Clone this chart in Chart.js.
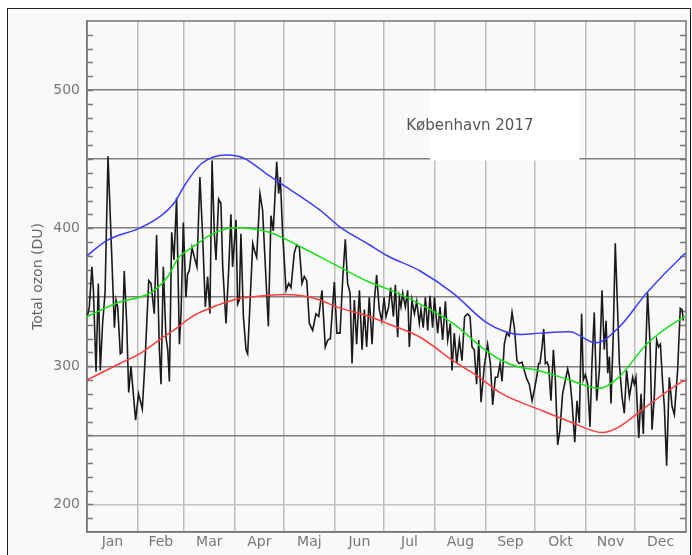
<!DOCTYPE html>
<html>
<head>
<meta charset="utf-8">
<title>Total ozon København 2017</title>
<script src="https://cdn.jsdelivr.net/npm/chart.js@4.4.0/dist/chart.umd.min.js"></script>
<style>
  html, body { margin: 0; padding: 0; background: #fff; }
  #wrap { position: relative; width: 692px; height: 555px; overflow: hidden; }
  #frame { position: absolute; left: 7px; top: 8px; width: 682px; height: 560px;
           border: 1.5px solid #222; background: #f9f9f9; }
  #chart { position: absolute; left: 0; top: 0; }
</style>
</head>
<body>
<div id="wrap">
  <div id="frame"></div>
  <canvas id="chart" width="692" height="555"></canvas>
</div>
<script>
/* ---- data (day of year, DU) ---- */
const monthNames = ["Jan", "Feb", "Mar", "Apr", "Maj", "Jun", "Jul", "Aug", "Sep", "Okt", "Nov", "Dec"];
const monthEdges = [31, 59, 90, 120, 151, 181, 212, 243, 273, 304, 334];
const monthMids = [15.5, 45, 74.5, 105, 135.5, 166, 196.5, 227.5, 258, 288.5, 319, 349.5];
const yGridValues = [200, 250, 300, 350, 400, 450, 500];

// daily observations 2017
const obsDays = [
  0.4, 1.4, 3.0, 3.9, 5.5, 6.9, 8.1, 9.5, 11.0, 12.8, 14.2, 16.7, 17.7, 18.7, 20.3, 21.3, 22.7, 24.2, 25.4, 26.8,
  29.6, 31.4, 32.5, 33.7, 35.5, 37.6, 39.0, 41.0, 42.4, 44.1, 45.1, 46.5, 48.1, 49.2, 50.2, 51.6, 53.0, 54.6, 56.3, 57.3,
  58.7, 60.3, 61.3, 62.3, 64.0, 65.4, 67.0, 68.8, 70.5, 72.1, 73.5, 74.9, 76.2, 77.6, 78.6, 80.2, 81.6, 82.7, 84.7, 86.3,
  87.7, 88.7, 90.8, 91.8,
  92.8, 93.8, 95.3, 96.9, 97.9, 99.3, 101.0, 102.0, 103.4, 105.4, 107.0, 108.7, 110.5, 112.1, 113.5, 115.6, 116.8, 117.8, 119.2, 121.3,
  122.9, 124.3, 126.3, 127.8, 129.4, 131.0, 132.4, 133.9, 135.5, 137.5, 139.5, 141.2, 143.2, 145.2, 146.7, 148.3, 150.7, 152.3, 154.2, 155.8,
  157.4, 158.8, 160.3, 161.5, 162.9, 164.3, 166.0, 167.6, 169.0, 170.4, 172.0, 173.7, 175.1, 176.5, 178.1, 179.6, 181.0, 182.2,
  183.8, 185.0, 186.7, 187.9, 189.3, 190.3, 191.3, 192.4, 194.0, 195.4, 196.4, 198.0, 199.5, 200.9, 202.5, 203.5, 204.9, 206.2, 207.6, 209.0,
  210.6, 211.7, 213.7, 215.1, 216.7, 218.4, 219.8, 221.4, 222.4, 223.8, 225.3, 226.9, 228.5, 230.1, 232.0, 233.4, 234.6, 236.0, 237.4, 238.7,
  240.1, 242.1, 244.1, 245.8, 247.2, 248.8, 250.2, 251.7, 252.9, 254.3, 255.7, 257.3, 259.0, 260.4, 262.0, 263.4, 265.1, 266.5, 267.9, 269.5,
  271.2, 272.6, 274.0, 275.2,
  276.0, 277.3, 278.3, 279.3, 280.3, 281.3, 282.7, 284.2, 285.4, 286.8, 288.2, 289.8, 291.5, 292.9, 294.3, 295.5, 297.2, 298.6, 300.0, 301.4,
  302.4, 303.7, 305.1, 306.5, 307.7, 309.1, 310.6, 312.2, 313.8, 315.2, 316.3, 317.3, 318.3, 319.3, 320.7, 321.9, 323.4, 324.4, 326.0, 327.4,
  328.8, 330.5, 332.5, 333.5, 334.5, 336.2, 337.6, 339.0, 340.2, 341.6, 343.1, 344.3, 345.7, 347.1, 348.3, 349.4, 350.8, 351.8, 353.2, 354.8,
  356.5, 357.9, 359.9, 361.5, 362.6, 363.4
];
const obsOzone = [
  337, 343, 372, 355, 296, 360, 297, 331, 353, 452, 408, 328, 348, 343, 309, 310, 369, 331, 281, 300,
  261, 280, 275, 269, 307, 362, 360, 338, 395, 312, 287, 372, 321, 312, 289, 397, 377, 422, 316, 338,
  404, 350, 367, 369, 386, 379, 372, 437, 393, 343, 365, 338, 449, 396, 377, 421, 418, 372, 331, 369,
  410, 372, 406, 345,
  348, 396, 336, 312, 309, 345, 389, 384, 379, 425, 413, 372, 329, 409, 398, 448, 425, 437, 396, 355,
  360, 357, 382, 388, 386, 360, 365, 362, 331, 326, 338, 336, 355, 314, 319, 320, 361, 324, 324, 363,
  392, 360, 353, 302, 348, 316, 355, 312, 341, 314, 350, 316, 348, 366, 341, 333, 350, 336,
  343, 357, 336, 359, 321, 350, 343, 353, 343, 355, 314, 348, 338, 347, 331, 341, 328, 350, 326, 351,
  328, 350, 324, 343, 319, 347, 319, 331, 297, 324, 302, 319, 304, 336, 338, 336, 314, 312, 287, 319,
  274, 300, 316, 302, 272, 292, 292, 302, 289, 316, 324, 322, 339, 328, 304, 302, 303, 297, 291, 287,
  275, 283, 292, 302,
  302, 314, 327, 302, 303, 300, 275, 312, 290, 243, 254, 280, 290, 298, 290, 275, 245, 275, 259, 338,
  290, 294, 287, 256, 302, 339, 275, 297, 355, 312, 333, 295, 307, 273, 324, 389, 338, 302, 278, 266,
  297, 278, 292, 287, 292, 248, 280, 251, 302, 353, 316, 254, 278, 319, 314, 316, 287, 271, 228, 292,
  271, 265, 297, 342, 341, 333
];

// climatology: upper, mean and lower curves
const hiDays = [0, 12, 32, 44, 53, 60, 70, 85, 95, 111, 121, 142, 154, 172, 183, 203, 223, 243, 255, 264, 276, 294, 310, 324, 341, 363, 365];
const hiOzone = [380, 391, 400, 408, 418, 432, 447, 453, 451, 438, 430, 413, 401, 388, 380, 369, 353, 332, 325, 323, 324, 325, 317, 328, 353, 380, 382];
const meanDays = [0, 20, 32, 40, 49, 56, 64, 75, 85, 92, 111, 131, 152, 172, 183, 203, 223, 243, 253, 263, 275, 294, 312, 324, 341, 363, 365];
const meanOzone = [336, 346.5, 350, 354, 364.6, 379, 386, 395, 399.6, 400.3, 397, 386, 373, 361, 356, 345, 331, 311.5, 304, 299.5, 297, 290, 284, 292, 316, 335, 336];
const loDays = [0, 20, 32, 44, 54, 64, 75, 85, 93, 111, 121, 131, 142, 152, 172, 183, 203, 223, 239, 253, 275, 294, 314, 324, 341, 363, 365];
const loOzone = [290, 302, 309, 319, 327, 336, 342, 346.5, 349, 351.4, 352, 351, 348, 343, 336, 331, 321, 304, 292, 280, 269, 260, 252, 256, 271, 289, 290];

const stationLabel = "København 2017";

function points(days, vals) {
  return days.map((d, i) => ({ x: d, y: vals[i] }));
}

/* ---- extra drawing: minor ticks, frame, label box ---- */
const decorPlugin = {
  id: "decor",
  beforeDatasetsDraw(chart) {
    const { ctx, chartArea: a, scales: { x, y } } = chart;
    ctx.save();

    // white label box (covers grid)
    const bx0 = x.getPixelForValue(209), bx1 = x.getPixelForValue(300);
    const by0 = y.getPixelForValue(499), by1 = y.getPixelForValue(449);
    ctx.fillStyle = "#ffffff";
    ctx.fillRect(bx0, by0, bx1 - bx0, by1 - by0);

    // minor ticks every 10 DU, both sides
    ctx.strokeStyle = "#777";
    ctx.lineWidth = 1.5;
    ctx.beginPath();
    for (let v = 190; v < 550; v += 10) {
      const py = Math.round(y.getPixelForValue(v)) + 0.5;
      ctx.moveTo(a.left, py);
      ctx.lineTo(a.left + 6, py);
      ctx.moveTo(a.right, py);
      ctx.lineTo(a.right - 6, py);
    }
    ctx.stroke();

    // full frame
    ctx.strokeRect(a.left, a.top, a.right - a.left, a.bottom - a.top);

    // station label
    ctx.fillStyle = "#555";
    ctx.font = "15px 'DejaVu Sans'";
    ctx.textAlign = "left";
    ctx.textBaseline = "middle";
    ctx.fillText(stationLabel, x.getPixelForValue(194.5), y.getPixelForValue(474));

    ctx.restore();
  }
};

const tickFont = { family: "'DejaVu Sans'", size: 14 };

new Chart(document.getElementById("chart"), {
  type: "line",
  data: {
    datasets: [
      {
        label: "max",
        data: points(hiDays, hiOzone),
        borderColor: "#3c3cff",
        borderWidth: 1.5,
        pointRadius: 0,
        cubicInterpolationMode: "monotone"
      },
      {
        label: "mean",
        data: points(meanDays, meanOzone),
        borderColor: "#14e014",
        borderWidth: 1.5,
        pointRadius: 0,
        cubicInterpolationMode: "monotone"
      },
      {
        label: "min",
        data: points(loDays, loOzone),
        borderColor: "#ff3c3c",
        borderWidth: 1.5,
        pointRadius: 0,
        cubicInterpolationMode: "monotone"
      },
      {
        label: "2017",
        data: points(obsDays, obsOzone),
        borderColor: "#1a1a1a",
        borderWidth: 1.6,
        pointRadius: 0,
        tension: 0
      }
    ]
  },
  options: {
    responsive: false,
    animation: false,
    layout: { padding: { top: 21, right: 6, left: 0, bottom: 0 } },
    plugins: {
      legend: { display: false },
      tooltip: { enabled: false }
    },
    scales: {
      x: {
        type: "linear",
        min: 0,
        max: 365,
        afterBuildTicks: (scale) => {
          scale.ticks = monthEdges.concat(monthMids).sort((a, b) => a - b).map(v => ({ value: v }));
        },
        afterFit: (scale) => { scale.height = 23; },
        ticks: {
          autoSkip: false,
          maxRotation: 0,
          padding: 2,
          color: "#777",
          font: tickFont,
          callback: (v) => {
            const i = monthMids.indexOf(v);
            return i >= 0 ? monthNames[i] : "";
          }
        },
        grid: {
          drawTicks: false,
          lineWidth: 1.5,
          color: (c) => (c.tick && monthEdges.includes(c.tick.value)) ? "#bdbdbd" : "rgba(0,0,0,0)"
        },
        border: { color: "#777", width: 1.5 }
      },
      y: {
        type: "linear",
        min: 180,
        max: 550,
        afterBuildTicks: (scale) => {
          scale.ticks = yGridValues.map(v => ({ value: v }));
        },
        afterFit: (scale) => { scale.width = 87; },
        ticks: {
          padding: 7,
          color: "#777",
          font: tickFont,
          callback: (v) => (v % 100 === 0 ? String(v) : "")
        },
        grid: {
          drawTicks: false,
          lineWidth: 1.5,
          color: (c) => (c.tick && c.tick.value === 200) ? "#c4c4c4" : "#808080"
        },
        border: { color: "#777", width: 1.5 },
        title: {
          display: true,
          text: "Total ozon (DU)",
          color: "#666",
          font: tickFont,
          padding: { top: 30, bottom: 0 }
        }
      }
    }
  },
  plugins: [decorPlugin]
});
</script>
</body>
</html>
